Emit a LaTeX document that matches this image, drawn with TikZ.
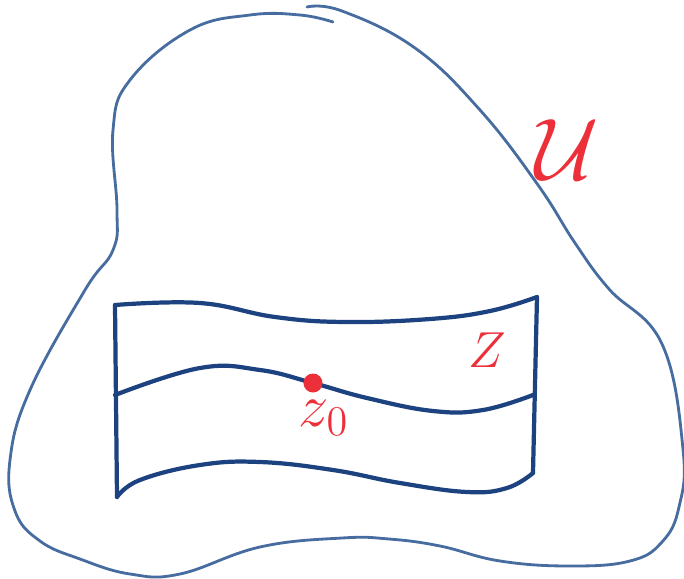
\documentclass[tikz,border=0pt]{standalone}
\usepackage{amsmath,amssymb}
\usepackage{tikz}
\usetikzlibrary{positioning,calc}
\definecolor{outlineblue}{RGB}{70,108,160}
\definecolor{sheetblue}{RGB}{28,66,128}
\definecolor{penred}{RGB}{236,48,58}

\begin{document}
\begin{tikzpicture}[
    x=0.01cm, y=-0.01cm,
    outline/.style={draw=outlineblue, line width=0.8pt, line cap=round, line join=round},
    sheet/.style={draw=sheetblue, line width=1.2pt, line cap=round, line join=round},
    lbl/.style={text=penred, inner sep=0pt},
    dot/.style={circle, fill=penred, inner sep=0pt, minimum size=0.19cm}
]
    \useasboundingbox (0,0) rectangle (684,578);

    % the open set
    \draw[outline] plot[smooth, tension=0.7] coordinates {
        (307,7) (342,11) (415,48) (480,110) (538,185) (575,243) (609,289)
        (662,344) (683,449) (679,507) (662,542) (630,561) (570,566) (500,561)
        (440,546) (389,539) (342,538) (260,547) (180,574) (130,574)
        (80,559) (40,541) (15,511) (10,460) (30,390) (85,290) (113,250)
        (117,210) (113,130) (130,80) (190,30) (250,15) (300,15) (333,22)};

    % the sheet Z
    \draw[sheet] (115,305) -- (117,497);
    \draw[sheet] (537,297) -- (533,473);
    \draw[sheet] plot[smooth, tension=0.7] coordinates {
        (115,305) (200,303) (275,317) (345,322) (430,319) (490,311) (537,297)};
    \draw[sheet] plot[smooth, tension=0.7] coordinates {
        (115,395) (200,368) (260,370) (313,383) (367,398) (433,411) (483,410) (533,395)};
    \draw[sheet] plot[smooth, tension=0.7] coordinates {
        (117,497) (140,480) (200,465) (260,462) (333,470) (400,483) (467,492) (507,488) (533,473)};

    % labels
    \node[dot] (z0) at (313,383) {};
    \node[lbl, font=\fontsize{17}{17}\selectfont] (z0lbl) at (324,418) {$z_0$};
    \node[lbl, font=\fontsize{15}{15}\selectfont] (zlbl) at (487,350) {$Z$};
    \node[lbl, font=\fontsize{24}{24}\selectfont] (ulbl) at (567,150) {$\mathcal{U}$};

\end{tikzpicture}
\end{document}
